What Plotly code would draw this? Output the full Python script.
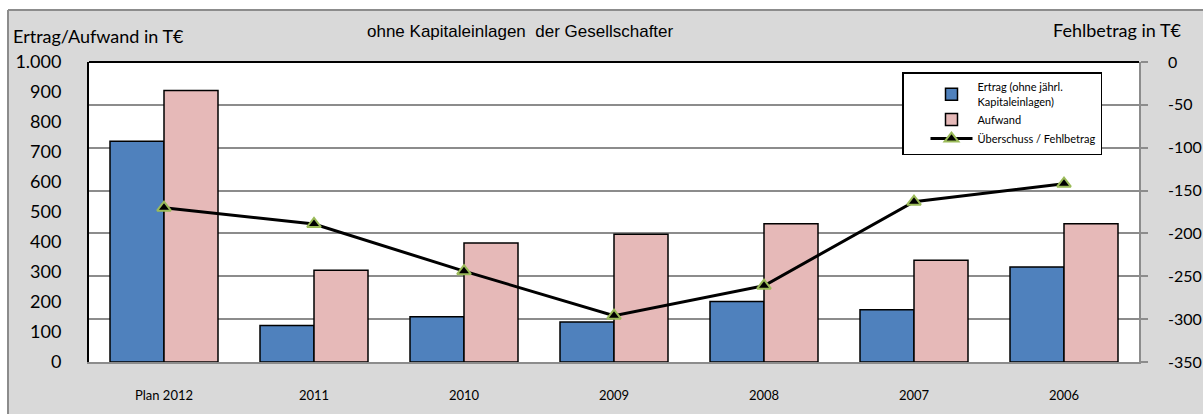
import plotly.graph_objects as go

categories = ["Plan 2012", "2011", "2010", "2009", "2008", "2007", "2006"]
ertrag = [736, 122, 151, 133, 202, 174, 317]
aufwand = [905, 306, 397, 426, 461, 339, 461]
saldo = [-170, -189, -244, -296, -261, -163, -142]

left_ticks = [0, 100, 200, 300, 400, 500, 600, 700, 800, 900, 1000]
right_ticks = [0, -50, -100, -150, -200, -250, -300, -350]
right_tick_labels = [str(v) for v in right_ticks]

W, H = 1203, 414
L, R, T, B = 89, 64, 62, 52
PW, PH = W - L - R, H - T - B


def px(p):
    return (p - L) / PW


def py(q):
    return (H - B - q) / PH


fig = go.Figure()
fig.add_trace(go.Bar(
    x=categories, y=ertrag, name="Ertrag (ohne jährl.<br>Kapitaleinlagen)",
    marker=dict(color="#4F81BD", line=dict(color="black", width=1.5)),
))
fig.add_trace(go.Bar(
    x=categories, y=aufwand, name="Aufwand",
    marker=dict(color="#E6B9B8", line=dict(color="black", width=1.5)),
))
fig.add_trace(go.Scatter(
    x=categories, y=saldo, name="Überschuss / Fehlbetrag", yaxis="y2",
    mode="lines+markers",
    line=dict(color="black", width=3),
    marker=dict(symbol="triangle-up", size=12, color="black",
                line=dict(color="#9BBB59", width=2)),
))

gray = "#8C8C8C"
fig.update_layout(
    width=W, height=H,
    margin=dict(l=L, r=R, t=T, b=B, autoexpand=False),
    paper_bgcolor="#D9D9D9",
    plot_bgcolor="white",
    separators=",.",
    barmode="group", bargap=0.28, bargroupgap=0,
    font=dict(family="Lato", color="black"),
    showlegend=True,
    legend=dict(
        x=px(902), y=py(72), xanchor="left", yanchor="top",
        bgcolor="white", bordercolor="black", borderwidth=1.5,
        font=dict(family="Lato", size=11, color="black"),
        itemwidth=42, traceorder="normal", indentation=22,
    ),
    xaxis=dict(
        automargin=False,
        showline=True, linecolor=gray, linewidth=1.5,
        ticks="", ticklabelstandoff=21,
        tickfont=dict(family="Lato", size=13, color="black"),
        showgrid=False,
    ),
    yaxis=dict(
        automargin=False,
        range=[0, 1000], tickvals=left_ticks, tickformat=",d",
        showgrid=False, zeroline=False,
        showline=True, linecolor="black", linewidth=2,
        ticks="", ticklabelstandoff=22,
        tickfont=dict(family="Lato", size=18, color="black"),
    ),
    yaxis2=dict(
        automargin=False,
        range=[-350, 0], tickvals=right_ticks, ticktext=right_tick_labels,
        overlaying="y", side="right",
        showgrid=True, gridcolor=gray, gridwidth=1.5, zeroline=False,
        showline=True, linecolor=gray, linewidth=1.5,
        ticks="outside", ticklen=7, tickcolor=gray, tickwidth=1.5,
        ticklabelstandoff=17,
        tickfont=dict(family="Lato", size=16, color="black"),
    ),
    shapes=[
        dict(type="rect", xref="paper", yref="paper", x0=-0.2, x1=1.2,
             y0=py(10), y1=py(-20), fillcolor="white", line=dict(width=0), layer="below"),
        dict(type="rect", xref="paper", yref="paper", x0=-0.2, x1=px(8),
             y0=py(430), y1=py(10), fillcolor="white", line=dict(width=0), layer="below"),
        dict(type="line", xref="paper", yref="paper", x0=px(8), x1=1.2,
             y0=py(10), y1=py(10), line=dict(color=gray, width=2)),
        dict(type="line", xref="paper", yref="paper", x0=px(8), x1=px(8),
             y0=py(10), y1=py(430), line=dict(color=gray, width=2)),
        dict(type="line", xref="paper", yref="paper", x0=0, x1=1,
             y0=1, y1=1, line=dict(color="black", width=2)),
    ],
    annotations=[
        dict(text="ohne Kapitaleinlagen  der Gesellschafter", xref="paper", yref="paper",
             x=px(520), y=py(31), xanchor="center", yanchor="middle", showarrow=False,
             font=dict(family="Liberation Sans", size=17, color="black")),
        dict(text="Ertrag/Aufwand in T€", xref="paper", yref="paper",
             x=px(11), y=py(36), xanchor="left", yanchor="middle", showarrow=False,
             font=dict(family="Lato", size=18, color="black")),
        dict(text="Fehlbetrag in T€", xref="paper", yref="paper",
             x=px(1184), y=py(30), xanchor="right", yanchor="middle", showarrow=False,
             font=dict(family="Lato", size=18, color="black")),
    ],
)

fig.write_html(
    "out.html",
    config={"displayModeBar": False},
    post_script="document.body.style.margin='0px';document.body.style.overflow='hidden';",
)
